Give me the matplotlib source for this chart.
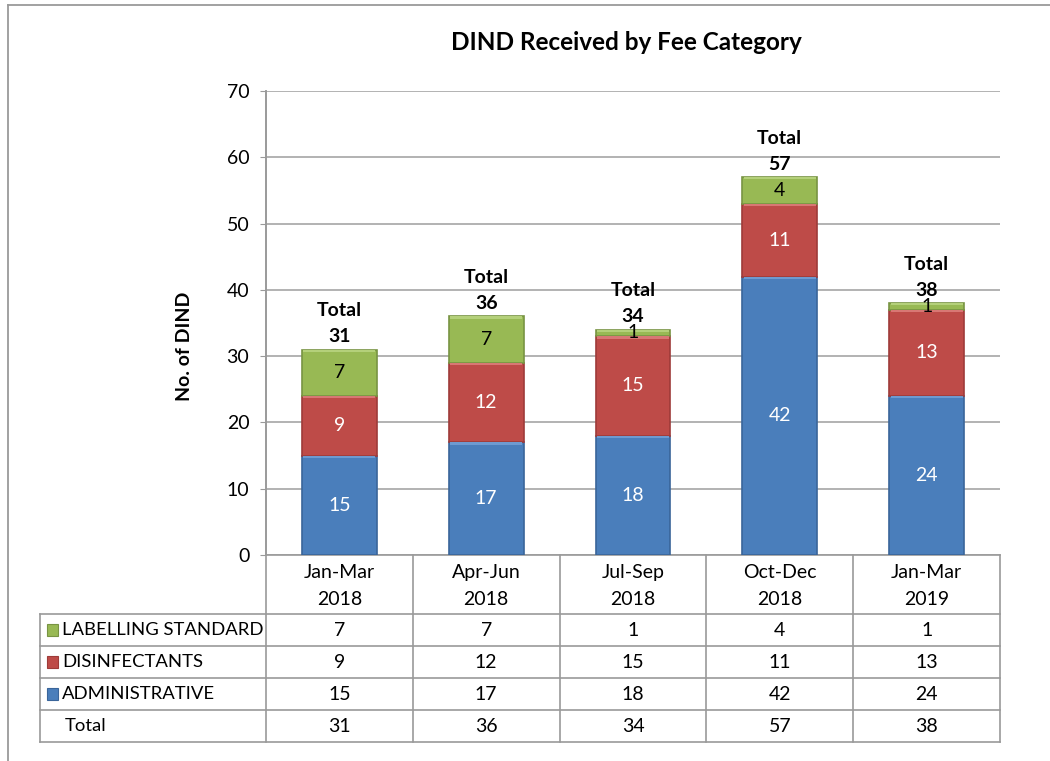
import matplotlib
matplotlib.use("Agg")
import matplotlib.pyplot as plt
from matplotlib.lines import Line2D
from matplotlib.patches import Rectangle
from matplotlib.transforms import blended_transform_factory
import numpy as np

plt.rcParams['font.family'] = ['Lato', 'DejaVu Sans']

categories = ["Jan-Mar\n2018", "Apr-Jun\n2018", "Jul-Sep\n2018", "Oct-Dec\n2018", "Jan-Mar\n2019"]
administrative = [15, 17, 18, 42, 24]
disinfectants = [9, 12, 15, 11, 13]
labelling = [7, 7, 1, 4, 1]
totals = [31, 36, 34, 57, 38]
row_names = ["LABELLING STANDARD", "DISINFECTANTS", "ADMINISTRATIVE", "Total"]
yticks = [0, 10, 20, 30, 40, 50, 60, 70]

W, H = 1050, 761
fig = plt.figure(figsize=(W / 100, H / 100), dpi=100)


def fx(x):
    return x / W


def fy(y):
    return 1 - y / H


GRID = "#A6A6A6"
LINE = "#9A9A9A"
face = {"adm": "#4A7EBB", "dis": "#BE4B48", "lab": "#98B954"}
edge = {"adm": "#3A659A", "dis": "#9E3B39", "lab": "#789443"}
top_hl = {"adm": "#6E9AD0", "dis": "#D87774", "lab": "#B4D07A"}

# outer border
fig.add_artist(Line2D([fx(8), 1], [fy(5), fy(5)], color=LINE, lw=1.3))
fig.add_artist(Line2D([fx(8), fx(8)], [fy(5), 0], color=LINE, lw=1.3))

ax = fig.add_axes([fx(266), fy(555), fx(1000) - fx(266), fy(91) - fy(555)])
x = np.arange(len(categories))
adm = np.array(administrative)
dis = np.array(disinfectants)
lab = np.array(labelling)
bw = 0.51

stack = [("adm", adm, np.zeros_like(adm), "white"),
         ("dis", dis, adm, "white"),
         ("lab", lab, adm + dis, "black")]
for key, vals, bottom, tc in stack:
    ax.bar(x, vals, width=bw, bottom=bottom, color=face[key],
           edgecolor=edge[key], linewidth=1.2, zorder=3)
    hl = np.minimum(np.full(vals.shape, 0.35), vals * 0.4)
    ax.bar(x, hl, width=bw * 0.96, bottom=bottom + vals - hl,
           color=top_hl[key], linewidth=0, zorder=4)
    for xi, v, b in zip(x, vals, bottom):
        ax.text(xi, b + v / 2, str(v), ha="center", va="center",
                color=tc, fontsize=14, zorder=6)

for xi, t in zip(x, totals):
    ax.annotate(f"Total\n{t}", (xi, t), xytext=(0, 3), textcoords="offset points",
                ha="center", va="bottom", fontsize=14, fontweight="bold",
                linespacing=1.65, zorder=6)

ax.set_xlim(-0.5, len(categories) - 0.5)
ax.set_ylim(0, 70)
ax.set_yticks(yticks)
ax.set_yticklabels([str(v) for v in yticks], fontsize=14)
ax.yaxis.grid(True, color=GRID, lw=1.2, zorder=0)
ax.set_xticks([])
for s in ["top", "right"]:
    ax.spines[s].set_visible(False)
ax.spines["left"].set_color(LINE)
ax.spines["bottom"].set_color(LINE)
ax.spines["left"].set_linewidth(1.2)
ax.spines["bottom"].set_linewidth(1.2)
ax.tick_params(axis="y", length=4, color=LINE, pad=8)

fig.text(fx(626), fy(42), "DIND Received by Fee Category", ha="center", va="center",
         fontsize=17.5, fontweight="bold")
fig.text(fx(185), fy(346), "No. of DIND", ha="center", va="center", rotation=90,
         fontsize=14, fontweight="bold")

# data table
bt = blended_transform_factory(ax.transData, fig.transFigure)
row_edges = [555, 614, 646, 678, 710, 742]
for i in range(len(categories) + 1):
    y_top = fy(91) if i == 0 else fy(555)
    fig.add_artist(Line2D([i - 0.5, i - 0.5], [y_top, fy(742)], transform=bt,
                          color=LINE, lw=1.2))
fig.add_artist(Line2D([fx(40), fx(40)], [fy(614), fy(742)], color=LINE, lw=1.2))
for ry in row_edges[1:]:
    fig.add_artist(Line2D([fx(40), fx(1000)], [fy(ry), fy(ry)], color=LINE, lw=1.2))

for xi, c in zip(x, categories):
    fig.text(xi, fy(586), c, transform=bt, ha="center", va="center",
             fontsize=14, linespacing=1.7)

rows = [labelling, disinfectants, administrative, totals]
keys = ["lab", "dis", "adm", None]
for r, (name, vals, key) in enumerate(zip(row_names, rows, keys)):
    yc = (row_edges[r + 1] + row_edges[r + 2]) / 2
    if key is not None:
        fig.add_artist(Rectangle((fx(47), fy(yc + 6)), fx(11), 12 / H,
                                 facecolor=face[key], edgecolor=edge[key], lw=0.8))
        fig.text(fx(62), fy(yc), name, ha="left", va="center", fontsize=13.3)
    else:
        fig.text(fx(65), fy(yc), name, ha="left", va="center", fontsize=13.3)
    for xi, v in zip(x, vals):
        fig.text(xi, fy(yc), str(v), transform=bt, ha="center", va="center", fontsize=14)

fig.savefig("out.png", dpi=100)
